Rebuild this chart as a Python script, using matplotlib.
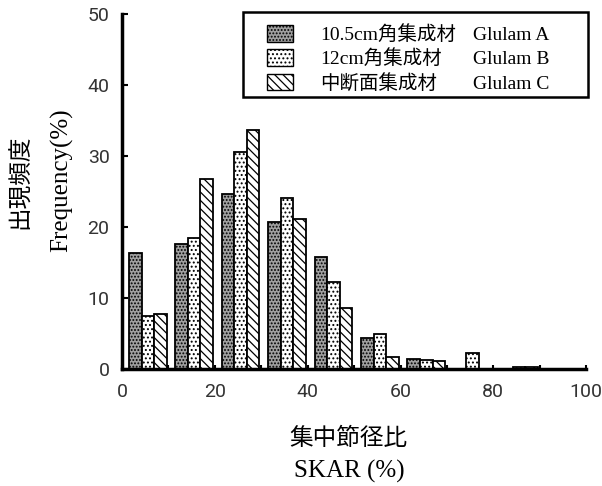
import matplotlib
matplotlib.use("Agg")
import matplotlib.pyplot as plt
import numpy as np
from matplotlib.patches import Patch, Rectangle

# SKAR bins (left edges, %)
binLeft = [0, 10, 20, 30, 40, 50, 60, 70, 80, 90]
# Frequency (%) per glulam type
glulamA = [16.4, 17.6, 24.7, 20.7, 15.7, 4.4, 1.4, 0.0, 0.0, 0.0]
glulamB = [7.4, 18.5, 30.6, 24.1, 12.2, 4.9, 1.3, 2.3, 0.3, 0.0]
glulamC = [7.8, 26.7, 33.7, 21.1, 8.6, 1.7, 1.1, 0.0, 0.3, 0.0]
jpNames = ["10.5cm角集成材", "12cm角集成材", "中断面集成材"]
enNames = ["Glulam A", "Glulam B", "Glulam C"]
xTicks = [0, 20, 40, 60, 80, 100]
yTicks = [0, 10, 20, 30, 40, 50]

plt.rcParams['hatch.linewidth'] = 0.9
mixFont = ['Liberation Serif', 'Noto Sans CJK JP']
tickFont = ['Liberation Sans Narrow', 'Roboto']

fig = plt.figure(figsize=(6.02, 4.86), dpi=100)
ax = fig.add_axes([0.2027, 0.241, 0.771, 0.730])

styles = [dict(facecolor="#a0a0a0", hatch="....."),
          dict(facecolor="white", hatch="...."),
          dict(facecolor="white", hatch="\\\\\\\\")]
barW = 2.7
left = np.array(binLeft) + 1.5
for i, vals in enumerate([glulamA, glulamB, glulamC]):
    ax.bar(left + i * barW, vals, width=barW, align="edge",
           edgecolor="black", linewidth=1.3, **styles[i])

ax.set_xlim(0, 100)
ax.set_ylim(0, 50)
for s in ["top", "right"]:
    ax.spines[s].set_visible(False)
for s in ["left", "bottom"]:
    ax.spines[s].set_linewidth(2.5)

ax.set_xticks(xTicks)
ax.set_yticks(yTicks)
ax.set_xticks(range(0, 101, 10), minor=True)
ax.tick_params(axis="y", direction="in", length=4, width=1.5, pad=9)
ax.tick_params(axis="x", which="both", direction="in", length=3, width=1.5, pad=10)
for lab in ax.get_xticklabels() + ax.get_yticklabels():
    lab.set_family(tickFont)
    lab.set_fontsize(14)
    lab.set_color("#333333")

# legend: two columns (japanese names | english names), box drawn separately
handles = [Patch(edgecolor="black", linewidth=1.0, **st) for st in styles]
blank = [Patch(facecolor="none", edgecolor="none") for _ in styles]
leg = ax.legend(handles + blank, jpNames + enNames, ncol=2,
                loc="upper left", bbox_to_anchor=(267 / 602, 1 - 25 / 486),
                bbox_transform=fig.transFigure,
                borderaxespad=0, frameon=False,
                handlelength=1.35, handleheight=0.95, handletextpad=1.4,
                columnspacing=-1.9, labelspacing=0.27, borderpad=0,
                prop={'family': mixFont, 'size': 14})
fig.patches.append(Rectangle((243 / 602, 1 - 97 / 486), 345 / 602, 85 / 486,
                             fill=False, edgecolor="black", linewidth=1.8,
                             transform=fig.transFigure))

# axis titles
fig.text(0.034, 0.627, "出現頻度", rotation=90, ha="center", va="center",
         family=mixFont, fontsize=17)
fig.text(0.103, 0.63, "Frequency(%)", rotation=90, ha="center", va="center",
         family=mixFont, fontsize=18)
fig.text(0.578, 0.096, "集中節径比", ha="center", va="center",
         family=mixFont, fontsize=17)
fig.text(0.58, 0.03, "SKAR (%)", ha="center", va="center",
         family=mixFont, fontsize=18)

plt.savefig("out.png", dpi=100)
